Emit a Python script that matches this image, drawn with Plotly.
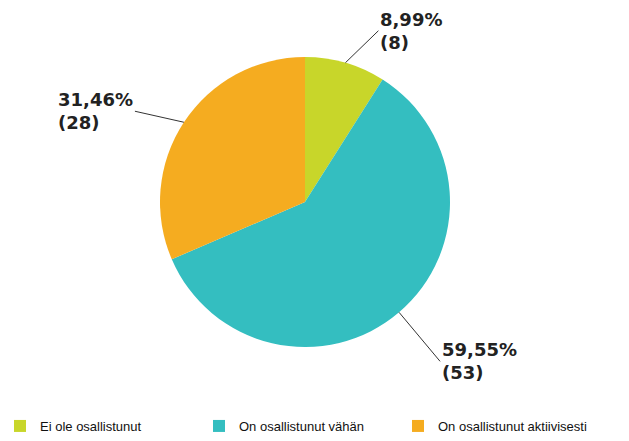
import math
import plotly.graph_objects as go

labels = ["Ei ole osallistunut", "On osallistunut vähän", "On osallistunut aktiivisesti"]
counts = [8, 53, 28]
colors = ["#c8d62a", "#34bec0", "#f5ac20"]

W, H = 629, 441
# pie placement in pixels (from the top-left corner of the figure)
CX, CY, R = 305, 202, 145
dom_x = [(CX - R) / W, (CX + R) / W]
dom_y = [(H - CY - R) / H, (H - CY + R) / H]

# label offsets (px) from the slice edge to the label box
label_offsets = [(33, -32), (41, 49), (-49, -11)]

fig = go.Figure(go.Pie(
    labels=labels,
    values=counts,
    marker=dict(colors=colors, line=dict(color="white", width=0)),
    sort=False,
    direction="clockwise",
    rotation=0,
    textinfo="none",
    hoverinfo="label+value+percent",
    domain=dict(x=dom_x, y=dom_y),
))

total = sum(counts)
cxp = (dom_x[0] + dom_x[1]) / 2
cyp = (dom_y[0] + dom_y[1]) / 2
annotations = []
cum = 0
for (lab, v), (ox, oy) in zip(zip(labels, counts), label_offsets):
    frac = v / total
    mid = (cum + frac / 2) * 2 * math.pi
    cum += frac
    sx, sy = math.sin(mid), math.cos(mid)
    x = cxp + R * sx / W
    y = cyp + R * sy / H
    pct = f"{frac * 100:.2f}".replace(".", ",")
    annotations.append(dict(
        x=x, y=y, xref="paper", yref="paper",
        text=f"<b>{pct}%<br>({v})</b>",
        showarrow=True, arrowhead=0, arrowwidth=1, arrowcolor="#333333",
        ax=ox, ay=oy,
        xanchor="left" if ox > 0 else "right",
        yanchor="middle",
        align="left",
        font=dict(family="DejaVu Sans", size=18, color="#222222"),
    ))

fig.update_layout(
    width=W, height=H,
    margin=dict(l=0, r=0, t=0, b=0),
    paper_bgcolor="white",
    plot_bgcolor="white",
    annotations=annotations,
    showlegend=True,
    legend=dict(
        orientation="h",
        x=0, xanchor="left",
        y=0, yanchor="bottom",
        font=dict(family="Liberation Sans, Arial", size=13, color="#111111"),
        entrywidth=154, entrywidthmode="pixels",
        traceorder="normal",
    ),
)

fig.write_html("out.html", config={"displayModeBar": False},
               post_script="document.body.style.margin='0';")
